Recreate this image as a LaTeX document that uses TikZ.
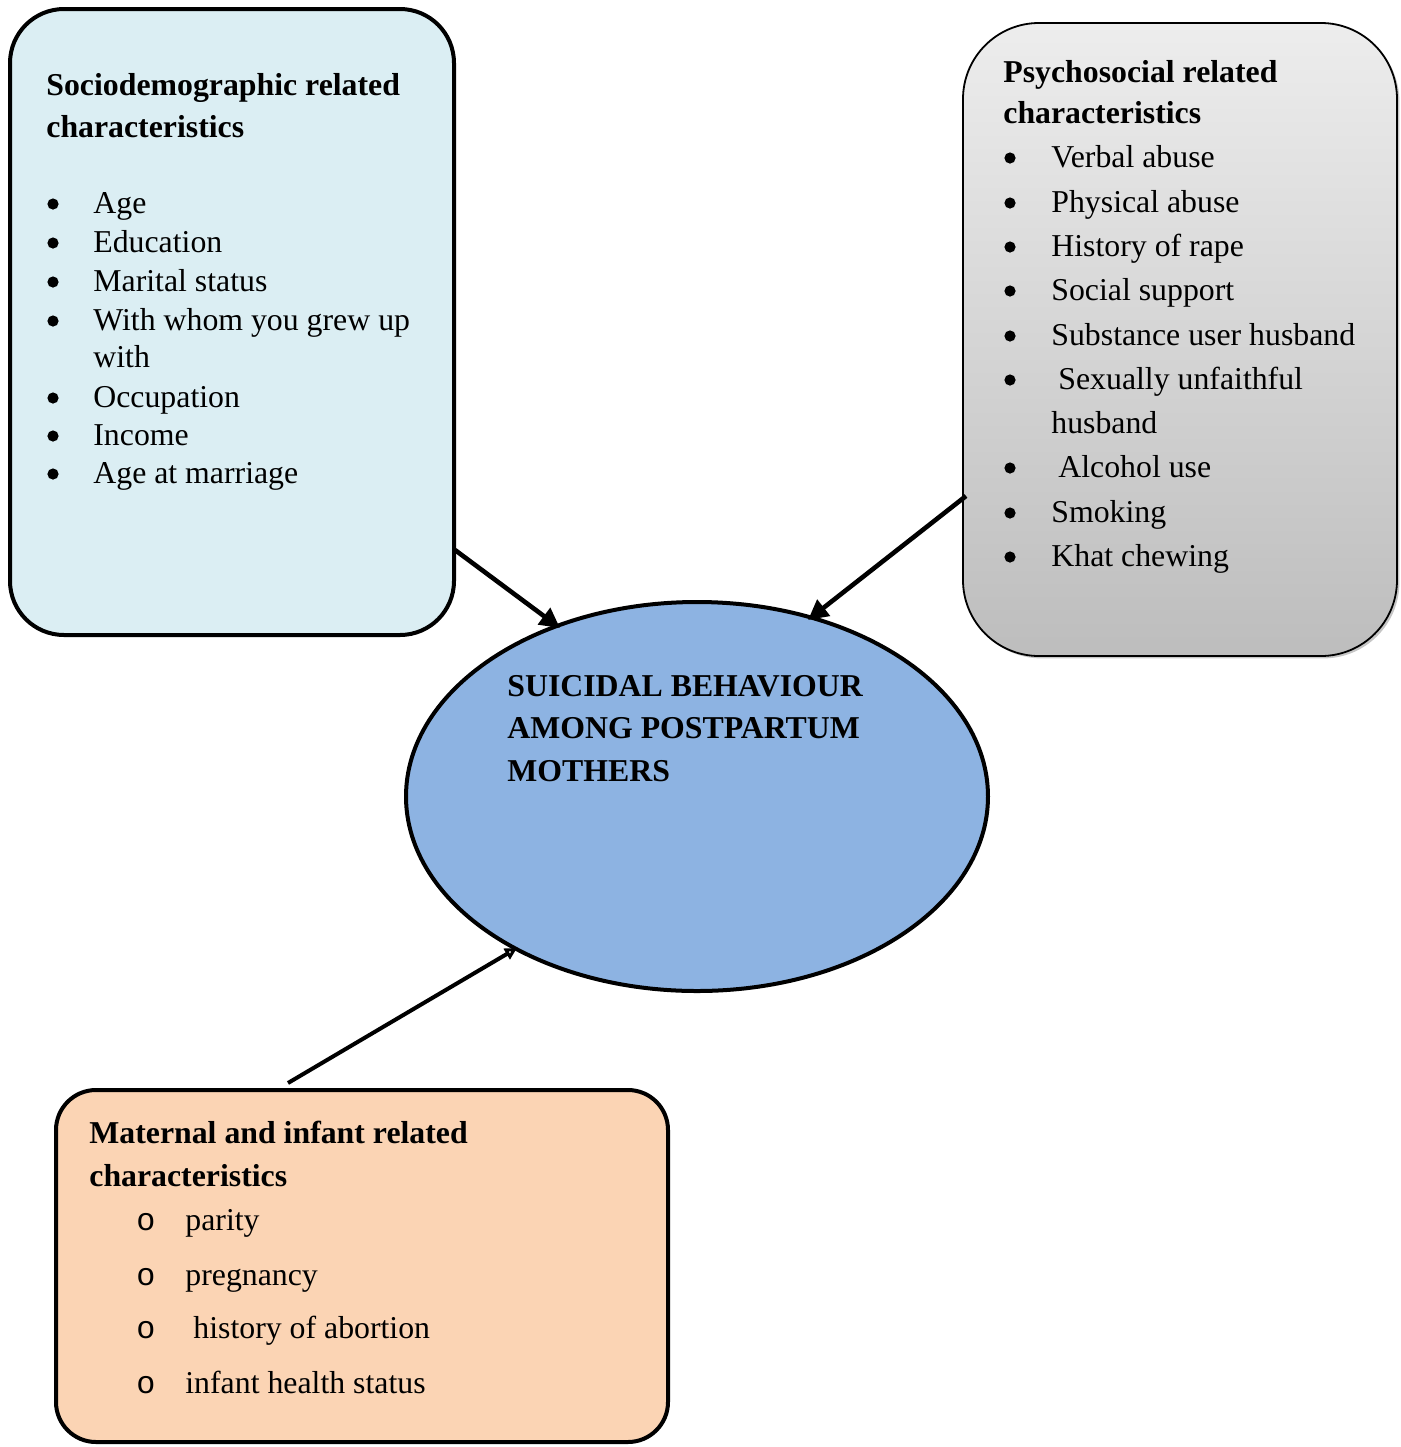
\documentclass[tikz,border=0pt]{standalone}
\usepackage{fontspec}
\setmainfont{Liberation Serif}
\setmonofont{Liberation Mono}
\usetikzlibrary{arrows.meta,shapes.geometric,shadows}

\definecolor{sdfill}{HTML}{DBEEF3}
\definecolor{psytop}{HTML}{EDEDED}
\definecolor{psybot}{HTML}{BDBDBD}
\definecolor{matfill}{HTML}{FBD4B4}
\definecolor{suifill}{HTML}{8DB3E2}

\begin{document}
\begin{tikzpicture}[x=0.5pt,y=-0.5pt,
    >={Triangle[length=10pt,width=10pt]},
    box/.style={draw,line width=2pt,inner sep=0pt,outer sep=0pt,anchor=north west},
    item/.style={anchor=base west,inner sep=0pt,font=\fontsize{15.9}{18}\selectfont},
    head/.style={item,font=\fontsize{15.9}{18}\selectfont\bfseries},
    dot/.style={circle,fill,inner sep=0pt,minimum size=5.6pt},
    ring/.style={item,font=\fontsize{15.9}{18}\selectfont\ttfamily},
    link/.style={->,line width=2.3pt},
]
    \useasboundingbox (0,0) rectangle (1401,1447);

    % the three groups of factors
    \node[box,fill=sdfill,rounded corners=27pt,
        minimum width=222pt,minimum height=313pt] (sd) at (10,9) {};
    \node[box,line width=0.9pt,top color=psytop,bottom color=psybot,
        rounded corners=38pt,
        drop shadow={shadow xshift=1.2pt,shadow yshift=-1.2pt,opacity=0.45},
        minimum width=217pt,minimum height=316.5pt] (psy) at (963,23) {};
    \node[box,fill=matfill,rounded corners=20pt,
        minimum width=306pt,minimum height=176pt] (mat) at (56,1090) {};

    % outcome
    \node[ellipse,draw,line width=2pt,fill=suifill,inner sep=0pt,outer sep=0pt,
        minimum width=291pt,minimum height=194.5pt] (sui) at (697,796.5) {};

    % sociodemographic
    \node[head] (sdh1) at (46,95) {Sociodemographic related};
    \node[head] (sdh2) at (46,137) {characteristics};
    \foreach \yy/\txt [count=\i] in {213/Age,252/Education,291/Marital status,
        330/With whom you grew up,407/Occupation,445/Income,483/Age at marriage}{
        \node[dot] (sdb\i) at (53,\yy-9) {};
        \node[item] (sd\i) at (93,\yy) {\txt};
    }
    \node[item] (sdw) at (93,367) {with};

    % psychosocial
    \node[head] (psyh1) at (1003,82) {Psychosocial related};
    \node[head] (psyh2) at (1003,123) {characteristics};
    \foreach \xx/\yy/\txt [count=\i] in {1051/167/Verbal abuse,1051/212/Physical abuse,
        1051/256/History of rape,1051/300/Social support,1051/345/Substance user husband,
        1058/389/Sexually unfaithful,1058/477/Alcohol use,1051/522/Smoking,
        1051/566/Khat chewing}{
        \node[dot] (psyb\i) at (1010,\yy-9) {};
        \node[item] (psy\i) at (\xx,\yy) {\txt};
    }
    \node[item] (psyw) at (1051,433) {husband};

    % maternal and infant
    \node[head] (math1) at (89,1143) {Maternal and infant related};
    \node[head] (math2) at (89,1186) {characteristics};
    \foreach \xx/\yy/\txt [count=\i] in {185/1230/parity,185/1285/pregnancy,
        193/1338/history of abortion,185/1393/infant health status}{
        \node[ring] (matb\i) at (136,\yy) {o};
        \node[item] (mat\i) at (\xx,\yy) {\txt};
    }

    % outcome text
    \node[head] (sui1) at (507,696) {SUICIDAL BEHAVIOUR};
    \node[head] (sui2) at (507,738) {AMONG POSTPARTUM};
    \node[head] (sui3) at (507,781) {MOTHERS};

    % links
    \coordinate (sdout) at (455,550);
    \coordinate (sdin) at (560,628);
    \coordinate (psyout) at (966,496);
    \coordinate (psyin) at (808,620);
    \coordinate (matout) at (288,1083);
    \coordinate (matin) at (517,948);
    \draw[link] (sdout) -- (sdin);
    \draw[link] (psyout) -- (psyin);
    \draw[link,line width=2pt,-{Triangle[open,length=6pt,width=6pt]}] (matout) -- (matin);
\end{tikzpicture}
\end{document}
